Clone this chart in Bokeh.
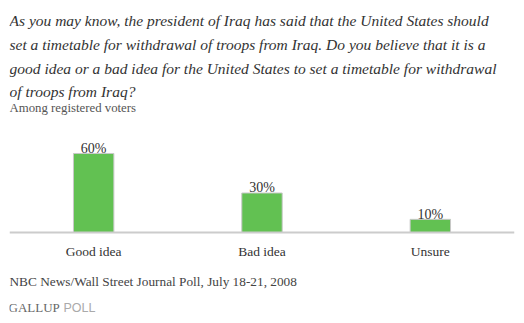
from bokeh.plotting import figure
from bokeh.models import ColumnDataSource, Label, FactorRange, Range1d
from bokeh.core.properties import value
from bokeh.embed import file_html
from bokeh.resources import INLINE

categories = ["Good idea", "Bad idea", "Unsure"]
values = [60, 30, 10]
value_labels = ["60%", "30%", "10%"]

title_lines = [
    "As you may know, the president of Iraq has said that the United States should",
    "set a timetable for withdrawal of troops from Iraq. Do you believe that it is a",
    "good idea or a bad idea for the United States to set a timetable for withdrawal",
    "of troops from Iraq?",
]
subtitle = "Among registered voters"
source_note = "NBC News/Wall Street Journal Poll, July 18-21, 2008"

W, H = 524, 323
FONT = "Liberation Serif"
FL = 9          # frame left in canvas pixels
BASE = 232      # canvas y of the zero line
PX = 1.317      # pixels per percentage point


def place(cx, baseline, text, **kw):
    p.add_layout(Label(x=cx - FL, y=H - baseline, x_units="screen", y_units="screen",
                       text=text, text_baseline="alphabetic", **kw))


p = figure(width=W, height=H, x_range=FactorRange(*categories, range_padding=0),
           y_range=Range1d(-(H - BASE) / PX, BASE / PX), output_backend="svg",
           toolbar_location=None, min_border_left=FL, min_border_right=10,
           min_border_top=0, min_border_bottom=0)
p.outline_line_color = None
p.xgrid.grid_line_color = None
p.ygrid.grid_line_color = None
p.yaxis.visible = False
p.background_fill_color = "white"
p.border_fill_color = "white"

src = ColumnDataSource(dict(cat=categories, val=values, lab=value_labels))
p.vbar(x="cat", top="val", width=0.24, source=src, fill_color="#62C152",
       line_color="#c8c8c8", line_width=1)
p.text(x="cat", y="val", text="lab", source=src, y_offset=-5, text_align="center",
       text_baseline="alphabetic", text_font=value(FONT), text_font_size="14px",
       text_color="#333333")

ax = p.xaxis[0]
ax.fixed_location = 0
ax.axis_line_color = "#cccccc"
ax.axis_line_width = 2
ax.major_tick_line_color = None
ax.minor_tick_line_color = None
ax.major_label_text_font = FONT
ax.major_label_text_font_size = "13.5px"
ax.major_label_text_color = "#333333"
ax.major_label_standoff = 5

baselines = [20, 44, 68, 91]
for line, b in zip(title_lines, baselines):
    place(9, b, line, text_font=FONT, text_font_style="italic",
          text_font_size="15.5px", text_color="#333333")
place(9, 107, subtitle, text_font=FONT, text_font_size="12.8px", text_color="#555555")
place(9, 281, source_note, text_font=FONT, text_font_size="13.3px", text_color="#444444")
place(8, 307, "GALLUP", text_font=FONT, text_font_size="13px", text_color="#666666")
place(63, 307, "POLL", text_font="Liberation Sans", text_font_size="12.5px",
      text_color="#aaaaaa")

open("out.html", "w").write(file_html(p, INLINE))
